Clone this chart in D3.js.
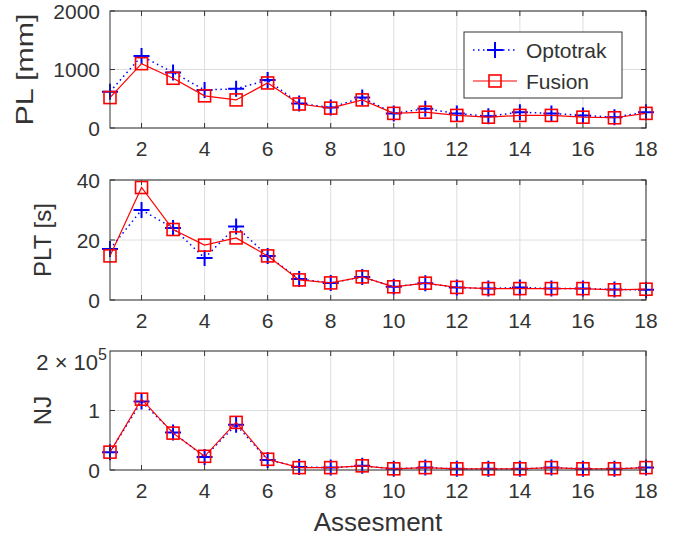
<!DOCTYPE html>
<html lang="en">
<head>
    <meta charset="UTF-8">
    <title>Assesment metrics</title>
    <script src="https://d3js.org/d3.v7.min.js"></script>
    <style>
        body { margin: 0; background: #fff; }
        svg text { font-family: "Liberation Sans", Arial, Helvetica, sans-serif; fill: #333; }
    </style>
</head>
<body>
<svg width="673" height="540"></svg>
<script>
    // data
    const assess = d3.range(1, 19);
    const plOpto   = [620, 1230, 950, 650, 670, 820, 420, 350, 520, 250, 330, 250, 200, 270, 250, 215, 185, 270];
    const plFusion = [520, 1100, 850, 550, 480, 770, 410, 340, 480, 250, 270, 215, 185, 215, 215, 185, 175, 250];
    const pltOpto   = [17, 30, 24, 14, 24.5, 14.7, 7, 5.7, 7.7, 4.4, 5.6, 4.2, 3.8, 4.2, 3.8, 3.8, 3.5, 3.4];
    const pltFusion = [14.7, 37.5, 23.5, 18.3, 20.7, 14.7, 6.7, 5.7, 7.7, 4.4, 5.6, 4.2, 3.8, 3.8, 3.8, 3.8, 3.4, 3.6];
    const njOpto   = [0.30, 1.15, 0.63, 0.22, 0.76, 0.17, 0.05, 0.04, 0.07, 0.02, 0.04, 0.02, 0.02, 0.02, 0.04, 0.02, 0.02, 0.04];
    const njFusion = [0.30, 1.19, 0.62, 0.23, 0.80, 0.18, 0.04, 0.04, 0.07, 0.02, 0.04, 0.02, 0.02, 0.02, 0.04, 0.02, 0.02, 0.04];
    const xTicks = d3.range(2, 19, 2);

    const panels = [
        {label: "PL [mm]", top: 11,  bottom: 128, domain: [0, 2000], ticks: [0, 1000, 2000], opto: plOpto,  fusion: plFusion},
        {label: "PLT [s]", top: 180, bottom: 300, domain: [0, 40],   ticks: [0, 20, 40],     opto: pltOpto, fusion: pltFusion},
        {label: "NJ",      top: 351, bottom: 470, domain: [0, 2],    ticks: [0, 1],          opto: njOpto,  fusion: njFusion}
    ];

    const svg = d3.select("svg");
    const left = 110, right = 646;
    const x = d3.scaleLinear().domain([1, 18]).range([left, right]);
    const frame = "#333", grid = "#dedede";
    const blue = "#0000ff", red = "#ff0000";

    function plus(g, cx, cy) {
        g.append("path").attr("d", `M${cx - 8},${cy}H${cx + 8}M${cx},${cy - 8}V${cy + 8}`)
            .attr("stroke", blue).attr("stroke-width", 2).attr("fill", "none");
    }
    function square(g, cx, cy) {
        g.append("rect").attr("x", cx - 6).attr("y", cy - 6).attr("width", 12).attr("height", 12)
            .attr("stroke", red).attr("stroke-width", 1.6).attr("fill", "none");
    }

    panels.forEach(function (p) {
        const y = d3.scaleLinear().domain(p.domain).range([p.bottom, p.top]);
        const g = svg.append("g");

        // grid
        g.selectAll(".gx").data(xTicks).enter().append("line")
            .attr("x1", d => x(d)).attr("x2", d => x(d)).attr("y1", p.top).attr("y2", p.bottom)
            .attr("stroke", grid).attr("stroke-width", 1);
        g.selectAll(".gy").data(p.ticks.concat([p.domain[1]])).enter().append("line")
            .attr("x1", left).attr("x2", right).attr("y1", d => y(d)).attr("y2", d => y(d))
            .attr("stroke", grid).attr("stroke-width", 1);

        // ticks inward, all four sides
        xTicks.forEach(function (t) {
            g.append("path").attr("d", `M${x(t)},${p.bottom}v-5M${x(t)},${p.top}v5`)
                .attr("stroke", frame).attr("stroke-width", 1);
        });
        p.ticks.forEach(function (t) {
            g.append("path").attr("d", `M${left},${y(t)}h5M${right},${y(t)}h-5`)
                .attr("stroke", frame).attr("stroke-width", 1);
        });

        // data
        const line = d3.line().x((d, i) => x(assess[i])).y(d => y(d));
        g.append("path").datum(p.opto).attr("d", line)
            .attr("fill", "none").attr("stroke", blue).attr("stroke-width", 1.5)
            .attr("stroke-dasharray", "1.5,3.5");
        p.opto.forEach((d, i) => plus(g, x(assess[i]), y(d)));
        g.append("path").datum(p.fusion).attr("d", line)
            .attr("fill", "none").attr("stroke", red).attr("stroke-width", 1.2);
        p.fusion.forEach((d, i) => square(g, x(assess[i]), y(d)));

        // frame
        g.append("rect").attr("x", left).attr("y", p.top).attr("width", right - left).attr("height", p.bottom - p.top)
            .attr("fill", "none").attr("stroke", frame).attr("stroke-width", 1);

        // tick labels
        g.selectAll(".xl").data(xTicks).enter().append("text")
            .attr("x", d => x(d)).attr("y", p.bottom + 28)
            .attr("text-anchor", "middle").attr("font-size", 21).text(d => d);
        g.selectAll(".yl").data(p.ticks).enter().append("text")
            .attr("x", left - 10).attr("y", d => y(d) + 7.5)
            .attr("text-anchor", "end").attr("font-size", 21).text(d => d);

        // y label
        const isPL = p.label === "PL [mm]";
        const yl = g.append("text")
            .attr("transform", `translate(${isPL ? 33 : 51},${(p.top + p.bottom) / 2}) rotate(-90)`)
            .attr("text-anchor", "middle").attr("font-size", 24).text(p.label);
        if (isPL) yl.attr("textLength", 112).attr("lengthAdjust", "spacingAndGlyphs");
    });

    // exponent label on NJ panel
    const nj = panels[2];
    const expo = svg.append("text").attr("x", left - 3).attr("y", nj.top + 19)
        .attr("text-anchor", "end").attr("font-size", 22);
    expo.append("tspan").text("2 \u00d7 10");
    expo.append("tspan").attr("dy", -10).attr("font-size", 16).text("5");

    // x axis title
    svg.append("text").attr("x", (left + right) / 2).attr("y", 531)
        .attr("text-anchor", "middle").attr("font-size", 26).text("Assesment");

    // legend
    const lg = svg.append("g");
    lg.append("rect").attr("x", 464).attr("y", 32).attr("width", 158).attr("height", 66)
        .attr("fill", "#fff").attr("stroke", frame).attr("stroke-width", 1);
    const legendItems = [{name: "Optotrak", y: 50, color: blue, dash: "1.5,3.5", mark: plus},
                         {name: "Fusion",   y: 81, color: red,  dash: null,      mark: square}];
    legendItems.forEach(function (it) {
        lg.append("line").attr("x1", 473).attr("x2", 517).attr("y1", it.y).attr("y2", it.y)
            .attr("stroke", it.color).attr("stroke-width", it.dash ? 1.5 : 1.2)
            .attr("stroke-dasharray", it.dash);
        it.mark(lg, 495, it.y);
        lg.append("text").attr("x", 526).attr("y", it.y + 7.5).attr("font-size", 21).text(it.name);
    });
</script>
</body>
</html>
